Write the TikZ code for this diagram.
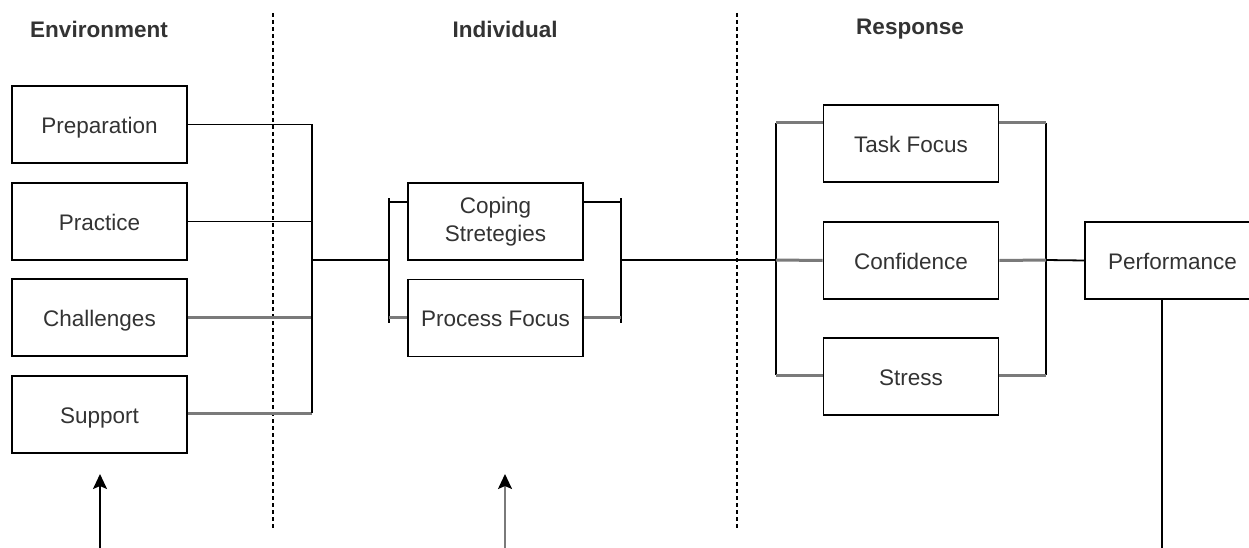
\documentclass[tikz,border=0pt]{standalone}
\usepackage{fontspec}
\setmainfont{Liberation Sans}
\usetikzlibrary{arrows.meta,calc}
\definecolor{txt}{HTML}{333333}
\definecolor{gline}{HTML}{7A7A7A}
\begin{document}
\begin{tikzpicture}[x=1pt,y=-1pt,
  box/.style={draw=black,line width=1.8pt,minimum width=175pt,minimum height=77pt,inner sep=0pt,
    text=txt,font=\fontsize{22.5}{28}\selectfont,align=center},
  one/.style={text height=21.6pt,text depth=4pt},
  head/.style={text=txt,font=\fontsize{22.5}{26}\selectfont\bfseries},
  bl/.style={draw=black,line width=1.8pt},
  gl/.style={draw=gline,line width=3pt},
  sep/.style={draw=black,line width=1.4pt,dash pattern=on 4pt off 3pt},
  arr/.style={-{Stealth[length=15pt,width=14pt,inset=3pt,black]},line width=2pt}]
\useasboundingbox (0,0) rectangle (1249,548);
\clip (0,0) rectangle (1249,548);
\fill[white] (0,0) rectangle (1249,548);

% headers
\node[head] (h1) at (99,29) {Environment};
\node[head] (h2) at (505,29) {Individual};
\node[head] (h3) at (910,29) {Response};

% separators
\coordinate (d1t) at (273,13); \coordinate (d1b) at (273,530);
\coordinate (d2t) at (737,13); \coordinate (d2b) at (737,530);
\draw[sep] (d1t) -- (d1b);
\draw[sep] (d2t) -- (d2b);

% environment boxes
\node[box,one] (prep) at (99.5,124.5) {Preparation};
\node[box,one] (prac) at (99.5,221.5) {Practice};
\node[box,one] (chal) at (99.5,317.5) {Challenges};
\node[box,one] (supp) at (99.5,414.5) {Support};

% individual boxes
\node[box] (cope) at (495.5,221.5) {Coping\\Stretegies};
\node[box,one] (proc) at (495.5,318) {Process Focus};

% response boxes
\node[box,one] (task) at (911,143.5) {Task Focus};
\node[box,one] (conf) at (911,260.5) {Confidence};
\node[box,one] (stre) at (911,376.5) {Stress};
\node[box,one] (perf) at (1172.5,260.5) {Performance};

% junction coordinates
\coordinate (jt) at (312,124.5);
\coordinate (jb) at (312,413);
\coordinate (j1) at (312,260);
\coordinate (b1) at (389,260);
\coordinate (b1t) at (389,198);
\coordinate (b1b) at (389,323);
\coordinate (b2) at (621,260);
\coordinate (b2t) at (621,198);
\coordinate (b2b) at (621,323);
\coordinate (ct) at (389,202);
\coordinate (cp) at (389,317);
\coordinate (r1) at (776,260);
\coordinate (r1t) at (776,123);
\coordinate (r1b) at (776,375);
\coordinate (r2) at (1046,260);
\coordinate (r2t) at (1046,123);
\coordinate (r2b) at (1046,375);
\coordinate (pb) at (1162,548);
\coordinate (a1s) at (100,548); \coordinate (a1e) at (100,474);
\coordinate (a2s) at (505,548); \coordinate (a2e) at (505,474);

% environment connectors
\draw[bl] (prep.east) -- (prep.east -| jt);
\draw[bl] (prac.east) -- (prac.east -| jt);
\draw[gl] (chal.east) -- (chal.east -| jt);
\draw[gl] (supp.east |- jb) -- (jb);
\draw[bl] (jt) -- (jb);
\draw[bl] (j1) -- (b1);

% individual bracket
\draw[bl] (b1t) -- (b1b);
\draw[bl] (ct) -- (cope.west |- ct);
\draw[gl] (cp) -- (proc.west |- cp);
\draw[bl] (b2t) -- (b2b);
\draw[bl] (cope.east |- ct) -- (ct -| b2);
\draw[gl] (proc.east |- cp) -- (cp -| b2);
\draw[bl] (b2) -- (r1);

% response bracket
\draw[bl] (r1t) -- (r1b);
\draw[gl] (r1t) -- (task.west |- r1t);
\draw[gl] (r1) -- (conf.west);
\draw[gl] (r1b) -- (stre.west |- r1b);
\draw[bl] (r2t) -- (r2b);
\draw[gl] (task.east |- r2t) -- (r2t);
\draw[gl] (conf.east) -- (r2);
\draw[gl] (stre.east |- r2b) -- (r2b);
\draw[bl] (r2) -- (perf.west);
\draw[bl] (perf.south -| pb) -- (pb);

% arrows
\draw[arr,black] (a1s) -- (a1e);
\draw[arr,gline] (a2s) -- (a2e);
\end{tikzpicture}
\end{document}
